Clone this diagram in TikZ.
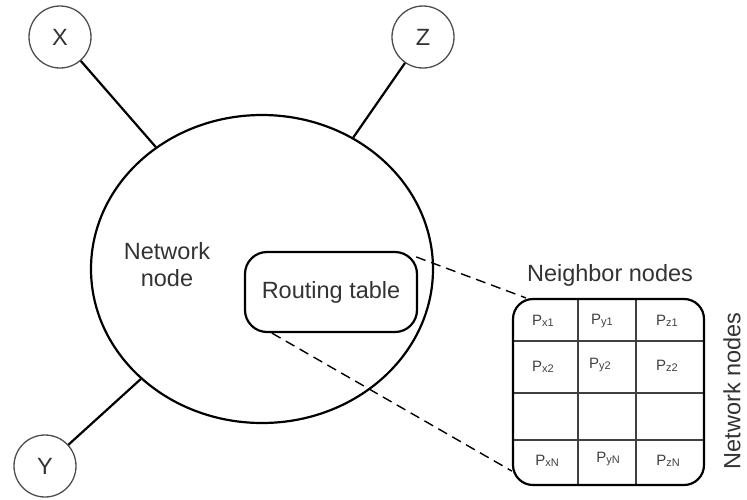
\documentclass[tikz,border=0pt]{standalone}
\usepackage{fontspec}
\setmainfont{Liberation Sans}
\usetikzlibrary{shapes.geometric}
\newcommand{\Pn}[2]{P\raisebox{-1pt}{\fontsize{11}{11}\selectfont #1#2}}

\begin{document}
\begin{tikzpicture}[x=1pt,y=-1pt,
  txt/.style={font=\fontsize{23.5}{27}\selectfont, text=black!80},
  peer/.style={circle, draw=black!70, line width=1.3pt, minimum size=62pt, inner sep=0pt, txt},
  link/.style={line width=2.2pt},
  cell/.style={font=\fontsize{15}{17}\selectfont, text=black!75},
  gridline/.style={line width=1.2pt, draw=black!75},
  zoomline/.style={dashed, dash pattern=on 10pt off 6pt, line width=1.4pt}]
\useasboundingbox (0,0) rectangle (747,499);
%\draw[step=50,gray,very thin] (0,0) grid (747,499); %grid lines

\draw node[ellipse, draw, line width=2.2pt, minimum width=342pt, minimum height=308pt, inner sep=0pt] (net) at (262,269) {};
\draw node[txt, align=center] (netlabel) at (167,265) {Network\\node};

\draw node[peer] (X) at (60,37) {X};
\draw node[peer] (Z) at (423,37) {Z};
\draw node[peer] (Y) at (45,466) {Y};
\draw[link] (X) -- (net);
\draw[link] (Z) -- (net);
\draw[link] (Y) -- (net);

\draw node[draw, line width=2.2pt, rounded corners=22pt, minimum width=172pt, minimum height=80pt, txt] (rt) at (331,292) {Routing table};

\draw node[txt] (nbr) at (610,275) {Neighbor nodes};
\draw node[txt, rotate=90] (nwk) at (732,391) {Network nodes};

\foreach \y in {341,393,440}
  \draw[gridline] (513,\y) -- (704,\y);
\foreach \x in {578,636}
  \draw[gridline] (\x,299) -- (\x,485);
\draw node[draw, line width=2.2pt, rounded corners=20pt, minimum width=191pt, minimum height=186pt] (tab) at (608.5,392) {};

\foreach \c/\r/\x/\y in {x/1/543/321, y/1/602/321, z/1/667/321,
                         x/2/543/367, y/2/600/365, z/2/667/366,
                         x/N/547/461, y/N/608/459, z/N/668/461}
  \draw node[cell] (p\c\r) at (\x,\y) {\Pn{\c}{\r}};

\draw[zoomline] ([xshift=-2pt,yshift=-6pt]rt.north east) -- ([xshift=14pt]tab.north west);
\draw[zoomline] ([xshift=28pt]rt.south west) -- ([yshift=15pt]tab.south west);
\end{tikzpicture}
\end{document}
